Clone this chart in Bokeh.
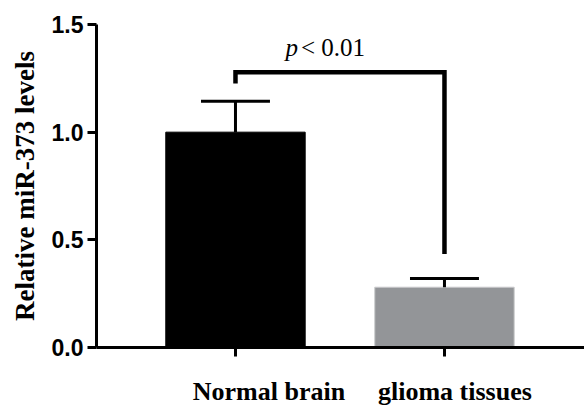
from bokeh.plotting import figure
from bokeh.models import LinearAxis, FixedTicker, Range1d
from bokeh.core.properties import value
from bokeh.embed import file_html
from bokeh.resources import INLINE

# ---- data ----
groups = ["Normal brain", "glioma tissues"]
group_x = [0, 1]
means = [1.00, 0.28]
errors = [0.144, 0.04]
bar_colors = ["#000000", "#939598"]
bracket_x = [0, 0, 1, 1]
bracket_y = [1.226, 1.278, 1.278, 0.434]
p_text_y = 1.394
y_ticks = [0.0, 0.5, 1.0, 1.5]
label_shift = [0.16, 0.05]  # label placement relative to bar centres

p = figure(width=584, height=408, output_backend="svg", toolbar_location=None,
           x_range=Range1d(-0.665, 1.67), y_range=Range1d(0, 1.5),
           min_border_left=96, min_border_right=0, min_border_top=24, min_border_bottom=59,
           x_axis_type=None)
p.outline_line_color = None
p.xgrid.visible = False
p.ygrid.visible = False
p.background_fill_color = "white"
p.border_fill_color = "white"

# bars
p.vbar(x=group_x, top=means, width=0.667, fill_color=bar_colors,
       line_color=["#000000", "#c9cacc"], line_width=1)

# error bars (upper only)
tops = [m + e for m, e in zip(means, errors)]
p.segment(x0=group_x, y0=means, x1=group_x, y1=tops, line_color="black", line_width=3)
cap = 0.165
p.segment(x0=[x - cap for x in group_x], y0=tops, x1=[x + cap for x in group_x], y1=tops,
          line_color="black", line_width=3)

# significance bracket
p.line(bracket_x, bracket_y, line_color="black", line_width=4.5, line_join="miter")
mid = (bracket_x[0] + bracket_x[-1]) / 2
p.text(x=[mid], y=[p_text_y], text=["p"], text_font=value("Liberation Serif"),
       text_font_style="italic", text_font_size="25px", text_align="right",
       text_baseline="alphabetic", x_offset=-42, text_color="black")
p.text(x=[mid], y=[p_text_y], text=["< 0.01"], text_font=value("Liberation Serif"),
       text_font_size="25px", text_align="left", text_baseline="alphabetic",
       x_offset=-39, text_color="black")

# y axis
ya = p.yaxis[0]
ya.ticker = FixedTicker(ticks=y_ticks)
ya.minor_tick_line_color = None
ya.axis_line_width = 3
ya.major_tick_line_width = 3
ya.major_tick_in = 0
ya.major_tick_out = 9
ya.major_label_standoff = 4
ya.major_label_text_font = "Liberation Sans"
ya.major_label_text_font_style = "bold"
ya.major_label_text_font_size = "23px"
ya.major_label_text_color = "black"
ya.major_label_overrides = {t: f"{t:.1f}" for t in y_ticks}
ya.axis_label = "Relative miR-373 levels"
ya.axis_label_text_font = "Liberation Serif"
ya.axis_label_text_font_style = "bold"
ya.axis_label_text_font_size = "27px"
ya.axis_label_text_color = "black"
ya.axis_label_standoff = 9

# x axis: ticks at bar centres
xa = LinearAxis(ticker=FixedTicker(ticks=group_x))
xa.minor_tick_line_color = None
xa.axis_line_width = 3
xa.major_tick_line_width = 3
xa.major_tick_in = 0
xa.major_tick_out = 9
xa.major_label_overrides = {x: "" for x in group_x}
xa.major_label_text_font_size = "1px"
xa.major_label_standoff = 0
p.add_layout(xa, "below")

# x axis labels (slightly shifted, as in the original)
lab_pos = [x + s for x, s in zip(group_x, label_shift)]
xl = LinearAxis(ticker=FixedTicker(ticks=lab_pos))
xl.axis_line_color = None
xl.major_tick_line_color = None
xl.minor_tick_line_color = None
xl.major_tick_out = 0
xl.major_tick_in = 0
xl.major_label_standoff = 20
xl.major_label_overrides = {x: g for x, g in zip(lab_pos, groups)}
xl.major_label_text_font = "Liberation Serif"
xl.major_label_text_font_style = "bold"
xl.major_label_text_font_size = "26px"
xl.major_label_text_color = "black"
p.add_layout(xl, "below")

open("out.html", "w").write(file_html(p, INLINE))
